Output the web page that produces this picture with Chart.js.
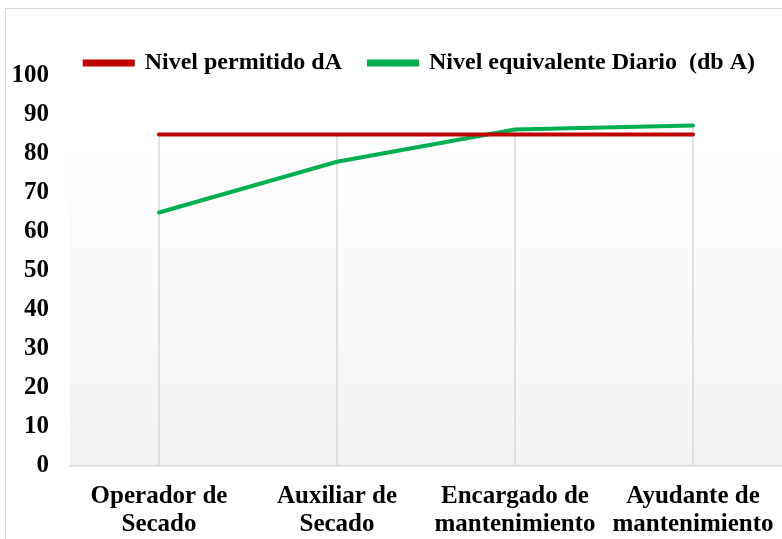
<!DOCTYPE html>
<html>
<head>
<meta charset="utf-8">
<script src="https://cdn.jsdelivr.net/npm/chart.js@4.4.1/dist/chart.umd.min.js"></script>
<style>
  html, body { margin: 0; padding: 0; background: #ffffff; }
  #frame { position: absolute; left: 5px; top: 8px; width: 777px; height: 531px;
           border-left: 1px solid #d9d9d9; border-top: 1px solid #d9d9d9; box-sizing: border-box; }
  #wrap { position: absolute; left: 0; top: 1px; width: 776px; height: 529px; }
</style>
</head>
<body>
<div id="frame"><div id="wrap"><canvas id="c"></canvas></div></div>
<script>
const categories = [["Operador de", "Secado"], ["Auxiliar de", "Secado"], ["Encargado de", "mantenimiento"], ["Ayudante de", "mantenimiento"]];
const permitido = [85, 85, 85, 85];
const equivalente = [65, 78, 86.3, 87.3];
const yTicks = [0, 10, 20, 30, 40, 50, 60, 70, 80, 90, 100];
const seriesNames = ["Nivel permitido dA", "Nivel equivalente Diario  (db A)"];

const FONT = "'Liberation Serif', 'Times New Roman', serif";

const bgPlugin = {
  id: 'bgGradient',
  beforeDraw(chart) {
    const {ctx, chartArea: a} = chart;
    if (!a) return;
    const g = ctx.createLinearGradient(0, a.top, 0, a.bottom);
    g.addColorStop(0, '#ffffff');
    g.addColorStop(0.15, '#ffffff');
    g.addColorStop(1, '#f2f2f2');
    ctx.save();
    ctx.fillStyle = g;
    ctx.fillRect(a.left, a.top, a.right - a.left, a.bottom - a.top);
    ctx.restore();
  }
};

const dropLines = {
  id: 'dropLines',
  beforeDatasetsDraw(chart) {
    const {ctx, scales: {x, y}} = chart;
    ctx.save();
    ctx.strokeStyle = '#d9d9d9';
    ctx.lineWidth = 1.5;
    categories.forEach((c, i) => {
      const m = Math.max(...chart.data.datasets.map(d => d.data[i]));
      const px = x.getPixelForValue(i);
      ctx.beginPath();
      ctx.moveTo(px, y.getPixelForValue(m));
      ctx.lineTo(px, y.getPixelForValue(0));
      ctx.stroke();
    });
    ctx.restore();
  }
};

new Chart(document.getElementById('c'), {
  type: 'line',
  data: {
    labels: categories,
    datasets: [
      { label: seriesNames[0], data: permitido, borderColor: '#c00000', backgroundColor: '#c00000',
        borderWidth: 4, pointRadius: 0, borderCapStyle: 'round', tension: 0 },
      { label: seriesNames[1], data: equivalente, borderColor: '#00b050', backgroundColor: '#00b050',
        borderWidth: 4, pointRadius: 0, borderCapStyle: 'round', tension: 0 }
    ]
  },
  options: {
    responsive: true,
    maintainAspectRatio: false,
    animation: false,
    layout: { padding: { top: 14, right: 0, bottom: 0, left: 0 } },
    plugins: {
      legend: {
        position: 'top',
        align: 'end',
        maxHeight: 52,
        labels: {
          font: { family: FONT, size: 24, weight: 'bold' },
          color: '#000000',
          boxWidth: 48,
          boxHeight: 3,
          padding: 27
        }
      },
      tooltip: { enabled: false }
    },
    scales: {
      x: {
        offset: true,
        afterFit(s) { s.height = 73; s.paddingRight = 0; s.paddingLeft = 0; },
        grid: { display: false, drawTicks: false },
        border: { display: true, color: '#d9d9d9', width: 1.5 },
        ticks: {
          font: { family: FONT, size: 25, weight: 'bold', lineHeight: 1.12 },
          color: '#000000',
          padding: 17,
          maxRotation: 0,
          autoSkip: false
        }
      },
      y: {
        min: 0,
        max: 100,
        afterBuildTicks(s) { s.ticks = yTicks.map(v => ({ value: v })); },
        afterFit(s) { s.width = 64; },
        grid: { display: false, drawTicks: false },
        border: { display: false },
        ticks: {
          font: { family: FONT, size: 25, weight: 'bold' },
          color: '#000000',
          padding: 21
        }
      }
    }
  },
  plugins: [bgPlugin, dropLines]
});
</script>
</body>
</html>
